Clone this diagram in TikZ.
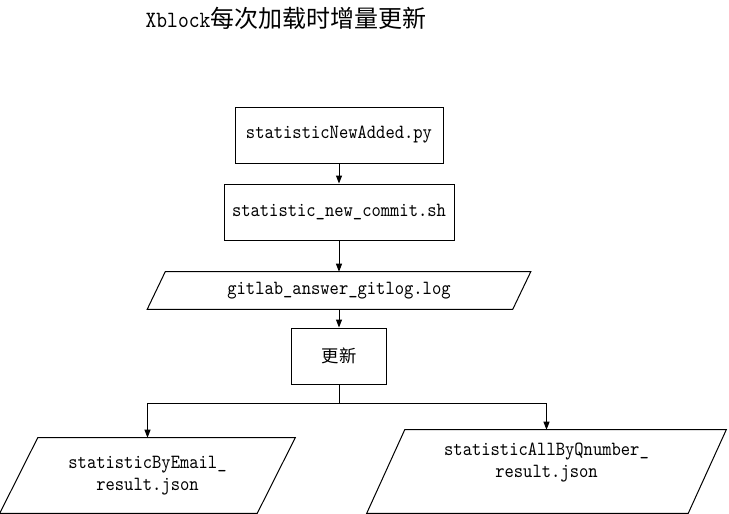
\documentclass[tikz,border=0pt]{standalone}
\usepackage{fontspec}
\newfontfamily\cjk{Noto Sans CJK SC}
\newfontfamily\codefont{lmmono10-regular.otf}[FakeStretch=0.88]
\usetikzlibrary{arrows.meta}

\begin{document}
\begin{tikzpicture}[x=0.75pt,y=-0.75pt,
	flow/.style={-{Triangle[width=4.5pt,length=6pt]}, line width=0.75pt},
	stepbox/.style={draw, line width=0.75pt, minimum height=42pt, inner sep=0pt, font=\fontsize{15.1}{16.5}\codefont},
	datafile/.style={inner sep=0pt, align=center, font=\fontsize{15.1}{16.5}\codefont}]
	\useasboundingbox (0,0) rectangle (729,514);
	\node (title) at (286,18.5) {{\fontsize{17.5}{20}\codefont Xblock}{\fontsize{18}{20}\cjk 每次加载时增量更新}};
	\node[stepbox, minimum width=156pt] (newadded) at (339,135) {statisticNewAdded.py};
	\node[stepbox, minimum width=172.5pt] (commit) at (339,212) {statistic\_new\_commit.sh};
	\node[datafile, minimum width=287.25pt, minimum height=27.75pt] (gitlog) at (339,290.5) {gitlab\_answer\_gitlog.log};
	\node[stepbox, minimum width=71.25pt, font=\fontsize{13}{15.6}\cjk] (update) at (339,356) {更新};
	\node[datafile, minimum width=221.25pt, minimum height=56.25pt] (byemail) at (147.5,475.5) {statisticByEmail\_\\result.json};
	\node[datafile, minimum width=269.25pt, minimum height=62.25pt] (byqnum) at (546.5,471.5) {statisticAllByQnumber\_\\result.json\\[-4pt]\strut};
	% parallelogram outlines
	\foreach \f/\s in {gitlog/18,byemail/38,byqnum/38}
		\draw[line width=0.75pt] ([xshift=\s*0.75pt]\f.north west) -- (\f.north east) -- ([xshift=-\s*0.75pt]\f.south east) -- (\f.south west) -- cycle;
	\coordinate (fork) at (339,403);
	\draw[flow] (newadded) -- (commit);
	\draw[flow] (commit) -- (gitlog);
	\draw[flow] (gitlog) -- (update);
	\draw[line width=0.75pt] (update) -- (fork);
	\draw[flow] (fork) -| (byemail.north);
	\draw[flow] (fork) -| (byqnum.north);
\end{tikzpicture}
\end{document}
